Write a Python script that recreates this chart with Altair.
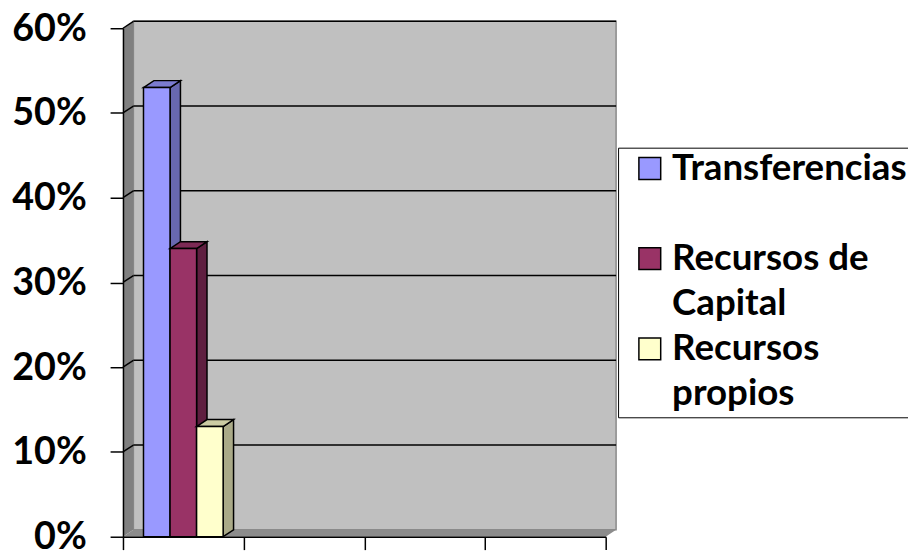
import altair as alt
import pandas as pd

# ---------------- data ----------------
categories = ["", "", "", ""]                      # four unlabeled category slots
series = ["Transferencias", "Recursos de Capital", "Recursos propios"]
values = [0.53, 0.34, 0.13]                        # values of the first category
legend_labels = ["Transferencias", "Recursos de\nCapital", "Recursos\npropios"]
y_ticks = [0, 0.1, 0.2, 0.3, 0.4, 0.5, 0.6]

# ---------------- styles ----------------
front_colors = ["#9999FF", "#993366", "#FFFFCC"]
top_colors = ["#7B7BD0", "#7D2A55", "#CCCCA3"]
side_colors = ["#6868B0", "#5F1F40", "#AAAA88"]
FONT = "Lato"

W, H = 487, 513
Y_MAX = y_ticks[-1]
N = len(categories)
DEPTH_X_PX, DEPTH_Y_PX = 10.5, 7.0
dx = DEPTH_X_PX * N / W
dy = DEPTH_Y_PX * Y_MAX / H
GROUP = 0.66
bw = GROUP / len(series)
start = (1 - GROUP) / 2

xs = alt.Scale(domain=[0, N], nice=False, zero=False)
ys = alt.Scale(domain=[0, Y_MAX], nice=False, zero=False)

x_axis = alt.Axis(values=list(range(N + 1)), labels=False, tickSize=13, tickWidth=1.5,
                  tickColor="black", domainColor="black", domainWidth=1.5, grid=False,
                  title="", zindex=2)
y_axis = alt.Axis(values=y_ticks, format=".0%", labelFont=FONT, labelFontWeight="bold",
                  labelFontSize=38, labelColor="black", labelPadding=24, labelOffset=1,
                  tickSize=13, tickWidth=1.5, tickColor="black", domainColor="black",
                  domainWidth=1.5, grid=False, title="", zindex=2)


def X(f):
    return alt.X(f, type="quantitative", scale=xs, axis=x_axis)


def Y(f):
    return alt.Y(f, type="quantitative", scale=ys, axis=y_axis)


layers = []

# back wall
back = pd.DataFrame({"x": [dx], "x2": [N + dx], "y": [dy], "y2": [Y_MAX + dy]})
layers.append(alt.Chart(back).mark_rect(fill="#C0C0C0", stroke="#8a8a8a", strokeWidth=1.5)
              .encode(X("x"), x2="x2", y=Y("y"), y2="y2"))

# left wall
left = pd.DataFrame({"x": [0, dx], "y": [Y_MAX, Y_MAX + dy], "y2": [0, dy]})
layers.append(alt.Chart(left).mark_area(fill="#808080", interpolate="linear")
              .encode(X("x"), y=Y("y"), y2="y2"))

# floor
floor = pd.DataFrame({"x": [0, dx, N, N + dx], "y": [0, dy, dy, dy], "y2": [0, 0, 0, dy]})
layers.append(alt.Chart(floor).mark_area(fill="#8c8c8c", interpolate="linear")
              .encode(X("x"), y=Y("y"), y2="y2"))

# gridlines on back wall + slanted part on left wall
gv = y_ticks[1:]
grid = pd.DataFrame({
    "xb0": [dx] * len(gv), "xb1": [N + dx] * len(gv), "yb": [v + dy for v in gv],
    "xs0": [0] * len(gv), "xs1": [dx] * len(gv), "ys0": gv, "ys1": [v + dy for v in gv],
})
layers.append(alt.Chart(grid).mark_rule(color="black", strokeWidth=1.5)
              .encode(X("xb0"), x2="xb1", y=Y("yb")))
layers.append(alt.Chart(grid).mark_rule(color="black", strokeWidth=1.5)
              .encode(X("xs0"), x2="xs1", y=Y("ys0"), y2="ys1"))

# 3D bars
for i, (name, v) in enumerate(zip(series, values)):
    x0 = start + i * bw
    x1 = x0 + bw
    top = pd.DataFrame({"x": [x0, x0 + dx, x1, x1 + dx],
                        "y": [v, v + dy, v + dy, v + dy],
                        "y2": [v, v, v, v + dy]})
    side = pd.DataFrame({"x": [x1, x1 + dx], "y": [v, v + dy], "y2": [0, dy]})
    front = pd.DataFrame({"x": [x0], "x2": [x1], "y": [0], "y2": [v], "serie": [name]})
    layers.append(alt.Chart(side).mark_area(fill=side_colors[i], stroke="black", strokeWidth=1.5,
                                            interpolate="linear")
                  .encode(X("x"), y=Y("y"), y2="y2"))
    layers.append(alt.Chart(top).mark_area(fill=top_colors[i], stroke="black", strokeWidth=1.5,
                                           interpolate="linear")
                  .encode(X("x"), y=Y("y"), y2="y2"))
    layers.append(alt.Chart(front).mark_rect(fill=front_colors[i], stroke="black", strokeWidth=1.5)
                  .encode(X("x"), x2="x2", y=Y("y"), y2="y2"))

# legend (drawn manually, like the original frame)
LEG_X, LEG_Y, LEG_B = 500, 121, 393
ROW = 91
one = pd.DataFrame({"k": [0]})
layers.append(alt.Chart(one).mark_rect(fill="white", stroke="black", strokeWidth=1)
              .encode(x=alt.value(LEG_X), x2=alt.value(LEG_X + 330),
                      y=alt.value(LEG_Y), y2=alt.value(LEG_B)))
for i, lab in enumerate(legend_labels):
    layers.append(alt.Chart(one).mark_square(size=484, fill=front_colors[i], stroke="black",
                                             strokeWidth=1.5, opacity=1)
                  .encode(x=alt.value(LEG_X + 31.5), y=alt.value(LEG_Y + 20.5 + i * ROW)))
    layers.append(alt.Chart(one).mark_text(font=FONT, fontWeight="bold", fontSize=37,
                                           align="left", baseline="alphabetic", lineBreak="\n",
                                           lineHeight=45, color="black")
                  .encode(x=alt.value(LEG_X + 54), y=alt.value(LEG_Y + 32 + i * ROW),
                          text=alt.value(lab)))

chart = alt.layer(*layers).properties(
    width=W, height=H,
    autosize=alt.AutoSizeParams(type="none"),
    padding={"left": 116, "top": 18, "right": 305, "bottom": 15},
).configure_view(strokeWidth=0).configure(background="white")

chart.save("out.html", embed_options={"renderer": "svg", "actions": False})
